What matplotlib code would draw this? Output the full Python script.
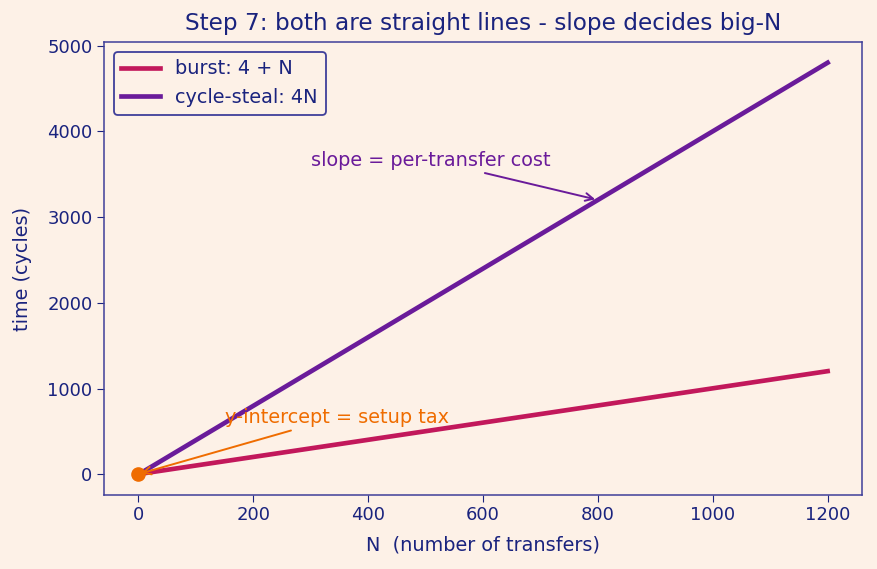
import numpy as np
import matplotlib
matplotlib.use("Agg")
import matplotlib.pyplot as plt

N = [0, 1200]
burst = [4, 1204]
cycle_steal = [0, 4800]
setup_point = (0, 4)

BG = "#FDF1E7"
NAVY = "#1A237E"
SPINE = "#3F3F9A"
C_BURST = "#C2185B"
C_STEAL = "#6A1B9A"
C_ORANGE = "#EF6C00"

fig = plt.figure(figsize=(8.77, 5.69), dpi=100, facecolor=BG)
ax = fig.add_axes([0.1186, 0.130, 0.983 - 0.1186, 0.926 - 0.130])
ax.set_facecolor(BG)

ax.plot(N, burst, color=C_BURST, lw=3.35, label="burst: 4 + N")
ax.plot(N, cycle_steal, color=C_STEAL, lw=3.35, label="cycle-steal: 4N")
ax.plot([setup_point[0]], [setup_point[1]], "o", color=C_ORANGE, ms=9.5, zorder=5)

ax.annotate("slope = per-transfer cost", xy=(800, 3200), xytext=(300, 3600),
            color=C_STEAL, fontsize=13.9,
            arrowprops=dict(arrowstyle="->", color=C_STEAL, lw=1.4))
ax.annotate("y-intercept = setup tax", xy=setup_point, xytext=(150, 600),
            color=C_ORANGE, fontsize=13.9,
            arrowprops=dict(arrowstyle="->", color=C_ORANGE, lw=1.4))

ax.set_title("Step 7: both are straight lines - slope decides big-N", color=NAVY,
             fontsize=16.7, pad=9)
ax.set_xlabel("N  (number of transfers)", color=NAVY, fontsize=13.9, labelpad=8)
ax.set_ylabel("time (cycles)", color=NAVY, fontsize=13.9, labelpad=11)
ax.tick_params(colors=NAVY, labelsize=13, length=4.7)
for s in ax.spines.values():
    s.set_color(SPINE)
    s.set_linewidth(1.1)

leg = ax.legend(loc="upper left", fontsize=13.9, facecolor=BG, edgecolor=SPINE,
                framealpha=1, labelcolor=NAVY)
leg.get_frame().set_linewidth(1.3)

fig.savefig("out.png", dpi=100, facecolor=BG)
